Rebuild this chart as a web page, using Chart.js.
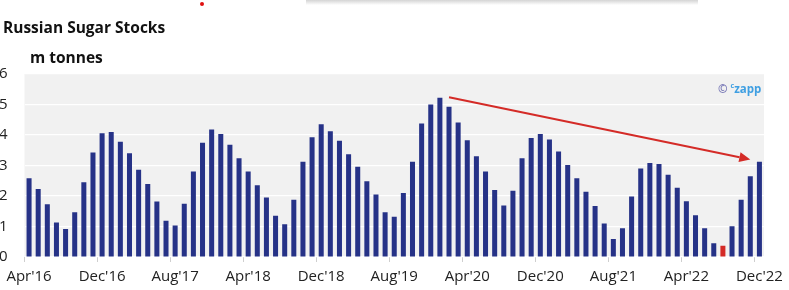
<!DOCTYPE html>
<html>
<head>
<meta charset="utf-8">
<script src="https://cdn.jsdelivr.net/npm/chart.js@4.4.1/dist/chart.umd.min.js"></script>
<style>
  html, body { margin: 0; padding: 0; background: #fff; }
  body { width: 789px; height: 290px; position: relative; overflow: hidden; font-family: "Open Sans", sans-serif; }
  #wrap { position: absolute; left: 0; top: 0; width: 789px; height: 290px; }
  .title { position: absolute; left: 3px; top: 16px; font-weight: 700; font-size: 15.5px; color: #111; white-space: nowrap; }
  .unit { position: absolute; left: 30px; top: 46px; font-weight: 700; font-size: 15.5px; color: #111; white-space: nowrap; }
  .shadow { position: absolute; left: 306px; top: 0; width: 392px; height: 5px;
            background: linear-gradient(to bottom, #d4d4d4, rgba(255,255,255,0)); }
  .dot { position: absolute; left: 200px; top: 2px; width: 4px; height: 4px; border-radius: 50%; background: #e01010; }
  .wm { position: absolute; left: 718px; top: 81px; font-size: 11.5px; font-weight: 700; white-space: nowrap; }
  .wm .c1 { color: #7c7cb8; }
  .wm .c2 { color: #3f9fe2; }
  .wm sup { font-size: 7px; }
</style>
</head>
<body>
<div class="shadow"></div>
<div class="dot"></div>
<div id="wrap"><canvas id="c" width="789" height="290"></canvas></div>
<div class="title">Russian Sugar Stocks</div>
<div class="unit">m tonnes</div>
<div class="wm"><span class="c1">©</span> <span class="c2"><sup>c</sup>zapp</span></div>
<script>
const categories = [
  "Apr'16","May'16","Jun'16","Jul'16","Aug'16","Sep'16","Oct'16","Nov'16","Dec'16",
  "Jan'17","Feb'17","Mar'17","Apr'17","May'17","Jun'17","Jul'17","Aug'17","Sep'17","Oct'17","Nov'17","Dec'17",
  "Jan'18","Feb'18","Mar'18","Apr'18","May'18","Jun'18","Jul'18","Aug'18","Sep'18","Oct'18","Nov'18","Dec'18",
  "Jan'19","Feb'19","Mar'19","Apr'19","May'19","Jun'19","Jul'19","Aug'19","Sep'19","Oct'19","Nov'19","Dec'19",
  "Jan'20","Feb'20","Mar'20","Apr'20","May'20","Jun'20","Jul'20","Aug'20","Sep'20","Oct'20","Nov'20","Dec'20",
  "Jan'21","Feb'21","Mar'21","Apr'21","May'21","Jun'21","Jul'21","Aug'21","Sep'21","Oct'21","Nov'21","Dec'21",
  "Jan'22","Feb'22","Mar'22","Apr'22","May'22","Jun'22","Jul'22","Aug'22","Sep'22","Oct'22","Nov'22","Dec'22"
];
const stocks = [
  2.58, 2.23, 1.73, 1.13, 0.92, 1.47, 2.45, 3.43, 4.06, 4.10,
  3.78, 3.40, 2.86, 2.39, 1.82, 1.19, 1.03, 1.75, 2.80, 3.75,
  4.18, 4.03, 3.68, 3.24, 2.80, 2.35, 1.95, 1.35, 1.07, 1.88,
  3.12, 3.93, 4.35, 4.12, 3.81, 3.37, 2.96, 2.48, 2.05, 1.47,
  1.32, 2.10, 3.12, 4.38, 5.00, 5.22, 4.93, 4.41, 3.83, 3.30,
  2.80, 2.20, 1.69, 2.17, 3.24, 3.90, 4.03, 3.85, 3.46, 3.02,
  2.58, 2.14, 1.67, 1.10, 0.59, 0.94, 1.98, 2.90, 3.08, 3.05,
  2.70, 2.27, 1.83, 1.37, 0.94, 0.45, 0.37, 1.01, 1.88, 2.65,
  3.12
];
const highlightMonth = "Aug'22";
const labeledTicks = ["Apr'16","Dec'16","Aug'17","Apr'18","Dec'18","Aug'19","Apr'20","Dec'20","Aug'21","Apr'22","Dec'22"];
const yTicks = [0, 1, 2, 3, 4, 5, 6];
const trendArrowFrom = ["Feb'20", 5.24];
const trendArrowTo = ["Nov'22", 3.20];

const NAVY = '#263287';
const RED = '#d42b27';
const barColors = categories.map(c => c === highlightMonth ? RED : NAVY);

const bgPlugin = {
  id: 'plotBg',
  beforeDraw(chart) {
    const a = chart.chartArea, ctx = chart.ctx;
    ctx.save();
    ctx.fillStyle = '#f1f1f1';
    ctx.fillRect(a.left, a.top, a.right - a.left, a.bottom - a.top);
    ctx.restore();
  }
};

const arrowPlugin = {
  id: 'trendArrow',
  afterDatasetsDraw(chart) {
    const xs = chart.scales.x, ys = chart.scales.y, ctx = chart.ctx;
    const x1 = xs.getPixelForValue(categories.indexOf(trendArrowFrom[0]));
    const y1 = ys.getPixelForValue(trendArrowFrom[1]);
    const x2 = xs.getPixelForValue(categories.indexOf(trendArrowTo[0]));
    const y2 = ys.getPixelForValue(trendArrowTo[1]);
    const ang = Math.atan2(y2 - y1, x2 - x1);
    const headLen = 11, headW = 5;
    const bx = x2 - headLen * Math.cos(ang), by = y2 - headLen * Math.sin(ang);
    ctx.save();
    ctx.strokeStyle = RED;
    ctx.fillStyle = RED;
    ctx.lineWidth = 2;
    ctx.beginPath();
    ctx.moveTo(x1, y1);
    ctx.lineTo(bx, by);
    ctx.stroke();
    ctx.beginPath();
    ctx.moveTo(x2, y2);
    ctx.lineTo(bx + headW * Math.sin(ang), by - headW * Math.cos(ang));
    ctx.lineTo(bx - headW * Math.sin(ang), by + headW * Math.cos(ang));
    ctx.closePath();
    ctx.fill();
    ctx.restore();
  }
};

new Chart(document.getElementById('c'), {
  type: 'bar',
  data: {
    labels: categories,
    datasets: [{
      data: stocks,
      backgroundColor: barColors,
      borderWidth: 0,
      barPercentage: 0.55,
      categoryPercentage: 1.0
    }]
  },
  options: {
    responsive: false,
    animation: false,
    devicePixelRatio: 1,
    layout: { padding: { top: 74, right: 19, left: 0, bottom: 0 } },
    plugins: { legend: { display: false }, tooltip: { enabled: false }, title: { display: false } },
    scales: {
      x: {
        offset: true,
        border: { display: false },
        grid: {
          offset: true,
          drawOnChartArea: false,
          drawTicks: true,
          tickLength: 5,
          color: ctx => (ctx.index !== undefined && ctx.index < categories.length && labeledTicks.includes(categories[ctx.index])) ? '#cfcfcf' : 'rgba(0,0,0,0)'
        },
        ticks: {
          autoSkip: false,
          maxRotation: 0,
          minRotation: 0,
          padding: 6,
          color: '#222',
          font: { family: 'Open Sans', size: 15 },
          callback: function(v, i) { const l = categories[i]; return labeledTicks.includes(l) ? l : ''; }
        },
        afterFit: s => { s.height = 33; }
      },
      y: {
        min: 0,
        max: 6,
        border: { display: false },
        grid: { color: '#ffffff', lineWidth: 1.2, drawTicks: false },
        afterBuildTicks: s => { s.ticks = yTicks.map(v => ({ value: v })); },
        ticks: {
          padding: 17,
          color: '#222',
          font: { family: 'Open Sans', size: 15 }
        },
        afterFit: s => { s.width = 24.5; }
      }
    }
  },
  plugins: [bgPlugin, arrowPlugin]
});
</script>
</body>
</html>
